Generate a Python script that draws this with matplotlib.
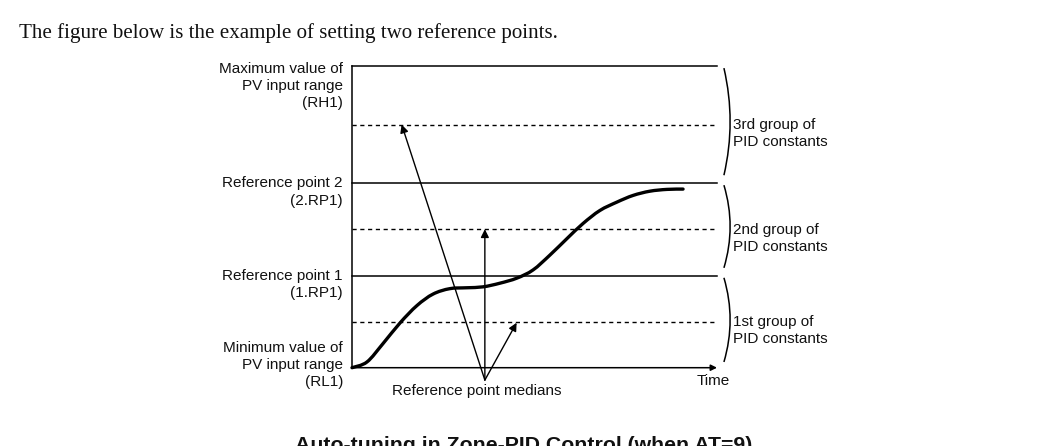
import matplotlib
matplotlib.use('Agg')
import matplotlib.pyplot as plt
from matplotlib.path import Path
from matplotlib.patches import PathPatch

# levels of the PV range (percent of full scale)
level_names = ['Minimum value of\nPV input range\n(RL1)',
               'Reference point 1\n(1.RP1)',
               'Reference point 2\n(2.RP1)',
               'Maximum value of\nPV input range\n(RH1)']
levels = [0, 30.5, 61.2, 100]
medians = [15.2, 45.9, 80.6]
group_names = ['1st group of\nPID constants',
               '2nd group of\nPID constants',
               '3rd group of\nPID constants']

# PV response curve
curve_t = [0, 4.1, 8.5, 13.2, 17.8, 22.2, 26.8, 31.5, 35.9, 40.5, 45.2,
           49.6, 54.2, 58.9, 63.3, 67.9, 72.6, 77.0, 81.6, 86.3, 90.7]
curve_pv = [0, 1.9, 8.0, 14.9, 20.6, 24.4, 26.2, 26.5, 26.8, 28.0, 29.7,
            32.4, 37.3, 42.8, 47.8, 52.1, 54.9, 57.1, 58.5, 59.1, 59.2]

# where the "Reference point medians" arrows start and end
arrow_origin = (36.4, -4.1)
arrow_targets = [(45.1, 14.9), (36.4, 45.9), (13.6, 80.6)]

LINE = 5.97  # one text line in data units (18 px)


def smooth_path(xs, ys):
    # catmull-rom through the read points, drawn as cubic bezier segments
    pts = list(zip(xs, ys))
    verts = [pts[0]]
    codes = [Path.MOVETO]
    for i in range(len(pts) - 1):
        p0 = pts[i - 1] if i > 0 else pts[i]
        p1 = pts[i]
        p2 = pts[i + 1]
        p3 = pts[i + 2] if i + 2 < len(pts) else pts[i + 1]
        c1 = (p1[0] + (p2[0] - p0[0]) / 6, p1[1] + (p2[1] - p0[1]) / 6)
        c2 = (p2[0] - (p3[0] - p1[0]) / 6, p2[1] - (p3[1] - p1[1]) / 6)
        verts += [c1, c2, p2]
        codes += [Path.CURVE4] * 3
    return Path(verts, codes)


def main():
    plt.rcParams['font.family'] = ['Liberation Sans', 'DejaVu Sans']
    fig = plt.figure(figsize=(10.55, 4.46), dpi=100)
    fig.text(19 / 1055, 1 - 38 / 446, 'The figure below is the example of setting two reference points.',
             family='Liberation Serif', fontsize=15.1, va='baseline', ha='left', color='#111')
    fig.text(295 / 1055, 1 - 436 / 446, 'Auto-tuning in Zone-PID Control (when AT=9)',
             fontsize=15.3, fontweight='bold', va='top', ha='left', color='#111')

    ax = fig.add_axes([352 / 1055, (446 - 367.7) / 446, 365 / 1055, 301.7 / 446])
    ax.set_xlim(0, 100)
    ax.set_ylim(0, 100)
    ax.axis('off')

    txt = dict(fontsize=11, color='#111', linespacing=1.3, clip_on=False)

    # frame: vertical axis and time axis arrow
    ax.plot([0, 0], [0, 100], color='black', lw=1.1, clip_on=False)
    ax.annotate('', xy=(100, 0), xytext=(0, 0),
                arrowprops=dict(arrowstyle='-|>', color='black', lw=1.1,
                                mutation_scale=9, shrinkA=0, shrinkB=0),
                annotation_clip=False)
    ax.text(98.9, -4.5, 'Time', ha='center', va='center', **txt)

    # reference levels
    for lv in levels[1:]:
        ax.plot([0, 100], [lv, lv], color='black', lw=1.1, clip_on=False)
    for m in medians:
        ax.plot([0, 100], [m, m], color='black', lw=1.0, dashes=(3, 2.6), clip_on=False)

    # left labels
    ax.text(-2.5, levels[0] + 0.9, level_names[0], ha='right', va='center', **txt)
    for lv, name in zip(levels[1:3], level_names[1:3]):
        ax.text(-2.5, lv - LINE / 2, name, ha='right', va='center', **txt)
    ax.text(-2.5, levels[3] - 0.6 - LINE, level_names[3], ha='right', va='center', **txt)

    # curly brackets and group names
    for i in range(3):
        top = levels[i + 1] - 0.7
        bot = levels[i] + 1.9 if i == 0 else levels[i] + 2.6
        mid = (top + bot) / 2
        path = Path([(101.9, top), (105.3, mid), (101.9, bot)],
                    [Path.MOVETO, Path.CURVE3, Path.CURVE3])
        ax.add_patch(PathPatch(path, fill=False, lw=1.1, color='black', clip_on=False))
        ax.text(104.3, medians[i] - LINE / 2, group_names[i], ha='left', va='center', **txt)

    # PV curve
    ax.add_patch(PathPatch(smooth_path(curve_t, curve_pv), fill=False, lw=2.4,
                           color='black', capstyle='round', clip_on=False))

    # median arrows
    for tx, ty in arrow_targets:
        ax.annotate('', xy=(tx, ty), xytext=arrow_origin,
                    arrowprops=dict(arrowstyle='-|>', color='black', lw=1.0,
                                    mutation_scale=12, shrinkA=0, shrinkB=0),
                    annotation_clip=False)
    ax.text(34.2, -7.7, 'Reference point medians', ha='center', va='center', **txt)

    fig.savefig('out.png', dpi=100)


if __name__ == '__main__':
    main()
